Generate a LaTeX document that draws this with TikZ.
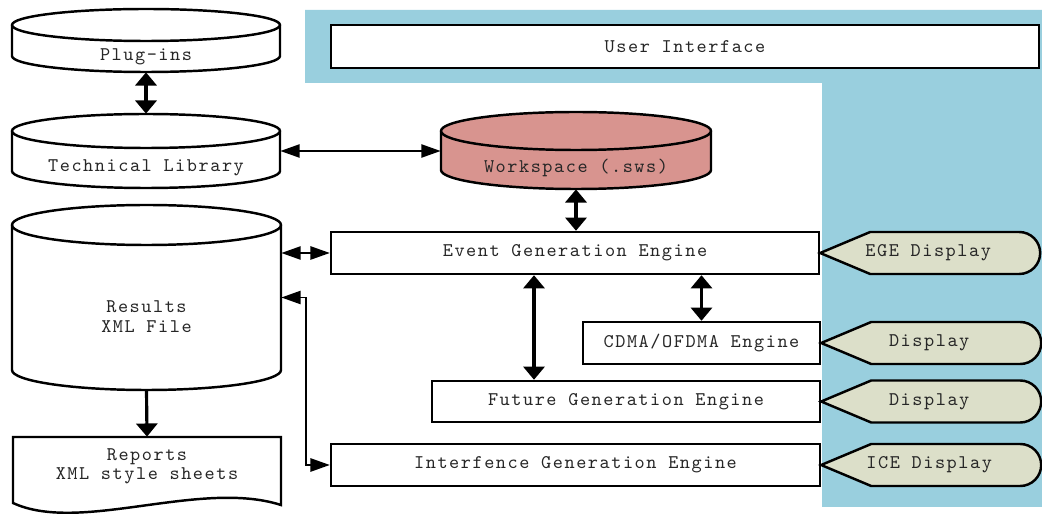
\documentclass[tikz,border=0pt]{standalone}
\usepackage{fontspec}
\setmonofont{Latin Modern Mono}[LetterSpace=8]
\usetikzlibrary{arrows.meta,fit}
\definecolor{uiblue}{HTML}{99CFDE}
\definecolor{wsred}{HTML}{D8948F}
\definecolor{dispgray}{HTML}{DCDFC9}
\definecolor{inkgray}{HTML}{262626}

% drum: name, left, right, top, bottom, ry, fill
\newcommand{\drum}[7]{%
  \node[fit={(#2,#4) (#3,#5)}, inner sep=0pt] (#1) {};
  \draw[outline, fill=#7] (#2,#4-#6) -- (#2,#5+#6)
    arc[start angle=180, end angle=360, x radius={(#3-#2)/2}, y radius=#6]
    -- (#3,#4-#6)
    arc[start angle=0, end angle=180, x radius={(#3-#2)/2}, y radius=#6] -- cycle;
  \draw[outline] (#2,#4-#6)
    arc[start angle=180, end angle=360, x radius={(#3-#2)/2}, y radius=#6];
}
% screen: name, engine node, text
\newcommand{\screen}[3]{%
  \draw[outline, fill=dispgray] (#2.east) -- ++(50,21) -- ++(149,0)
    arc[start angle=90, end angle=-90, radius=21] -- ++(-149,0) -- cycle;
  \path (#2.east) ++(108,0) node (#1) {#3};
}

\begin{document}
\begin{tikzpicture}[x=0.02cm, y=0.02cm,
    font=\ttfamily\fontsize{11}{11}\selectfont, text=inkgray,
    outline/.style = {line width=1.4pt},
    engine/.style = {draw, line width=1.4pt, fill=white, inner sep=0pt, minimum height=0.84cm},
    vlink/.style = {line width=1.8pt, {Triangle[length=7.5pt,width=12pt]}-{Triangle[length=7.5pt,width=12pt]}},
    oneway/.style = {line width=1.8pt, -{Triangle[length=7.5pt,width=12pt]}},
    hlink/.style = {line width=1.1pt, {Triangle[length=11pt,width=7.5pt]}-{Triangle[length=11pt,width=7.5pt]}}]
    \useasboundingbox (0,0) rectangle (1042,514);

    % user interface area
    \fill[uiblue] (305,504) -- (1042,504) -- (1042,7) -- (822,7)
        -- (822,431) -- (305,431) -- cycle;
    \node[engine, line width=1.6pt, minimum width=14.16cm, minimum height=0.86cm]
        (ui) at (685,467.5) {User Interface};

    % data stores
    \drum{plugins}{12}{280}{505}{442}{16}{white}
    \node (plugins-txt) at (146,457) {Plug-ins};
    \drum{techlib}{12}{280}{400}{326}{17}{white}
    \node (techlib-txt) at (146,346) {Technical Library};
    \drum{workspace}{441}{711}{402}{325}{19}{wsred}
    \node (workspace-txt) at (576,346) {Workspace (.sws)};
    \drum{results}{12}{281}{309}{124}{20}{white}
    \node[align=center] (results-txt) at (146.5,197.5) {Results\\XML File};

    \draw[outline, fill=white] (13,77) -- (281,77) -- (281,9)
        .. controls (200,35) and (80,-20) .. (13,11) -- cycle;
    \node[minimum width=5.36cm, minimum height=1.16cm, inner sep=0pt, align=center]
        (reports) at (147,48) {Reports\\XML style sheets};

    % engines
    \node[engine, minimum width=9.76cm] (ege) at (575,261) {Event Generation Engine};
    \node[engine, minimum width=4.74cm] (cdma) at (701.5,171) {CDMA/OFDMA Engine};
    \node[engine, minimum width=7.76cm, minimum height=0.82cm] (future) at (626,112.5) {Future Generation Engine};
    \node[engine, minimum width=9.78cm] (iceeng) at (575.5,49) {Interfence Generation Engine};

    % displays
    \screen{egedisp}{ege}{EGE Display}
    \screen{cdmadisp}{cdma}{Display}
    \screen{futuredisp}{future}{Display}
    \screen{icedisp}{iceeng}{ICE Display}

    % links
    \draw[vlink] (plugins.south) -- (techlib.north);
    \draw[hlink] (techlib.east) -- (techlib.east -| workspace.west);
    \draw[vlink] (workspace.south) -- (workspace.south |- ege.north);
    \draw[hlink] (ege.west -| results.east) -- (ege.west);
    \draw[vlink] (534,0 |- ege.south) -- (534,0 |- future.north);
    \draw[vlink] (ege.south -| cdma.north) -- (cdma.north);
    \draw[hlink] (results.east) -- ++(25,0) |- (iceeng.west);
    \draw[oneway] (results.south) -- (reports.north);
\end{tikzpicture}
\end{document}
